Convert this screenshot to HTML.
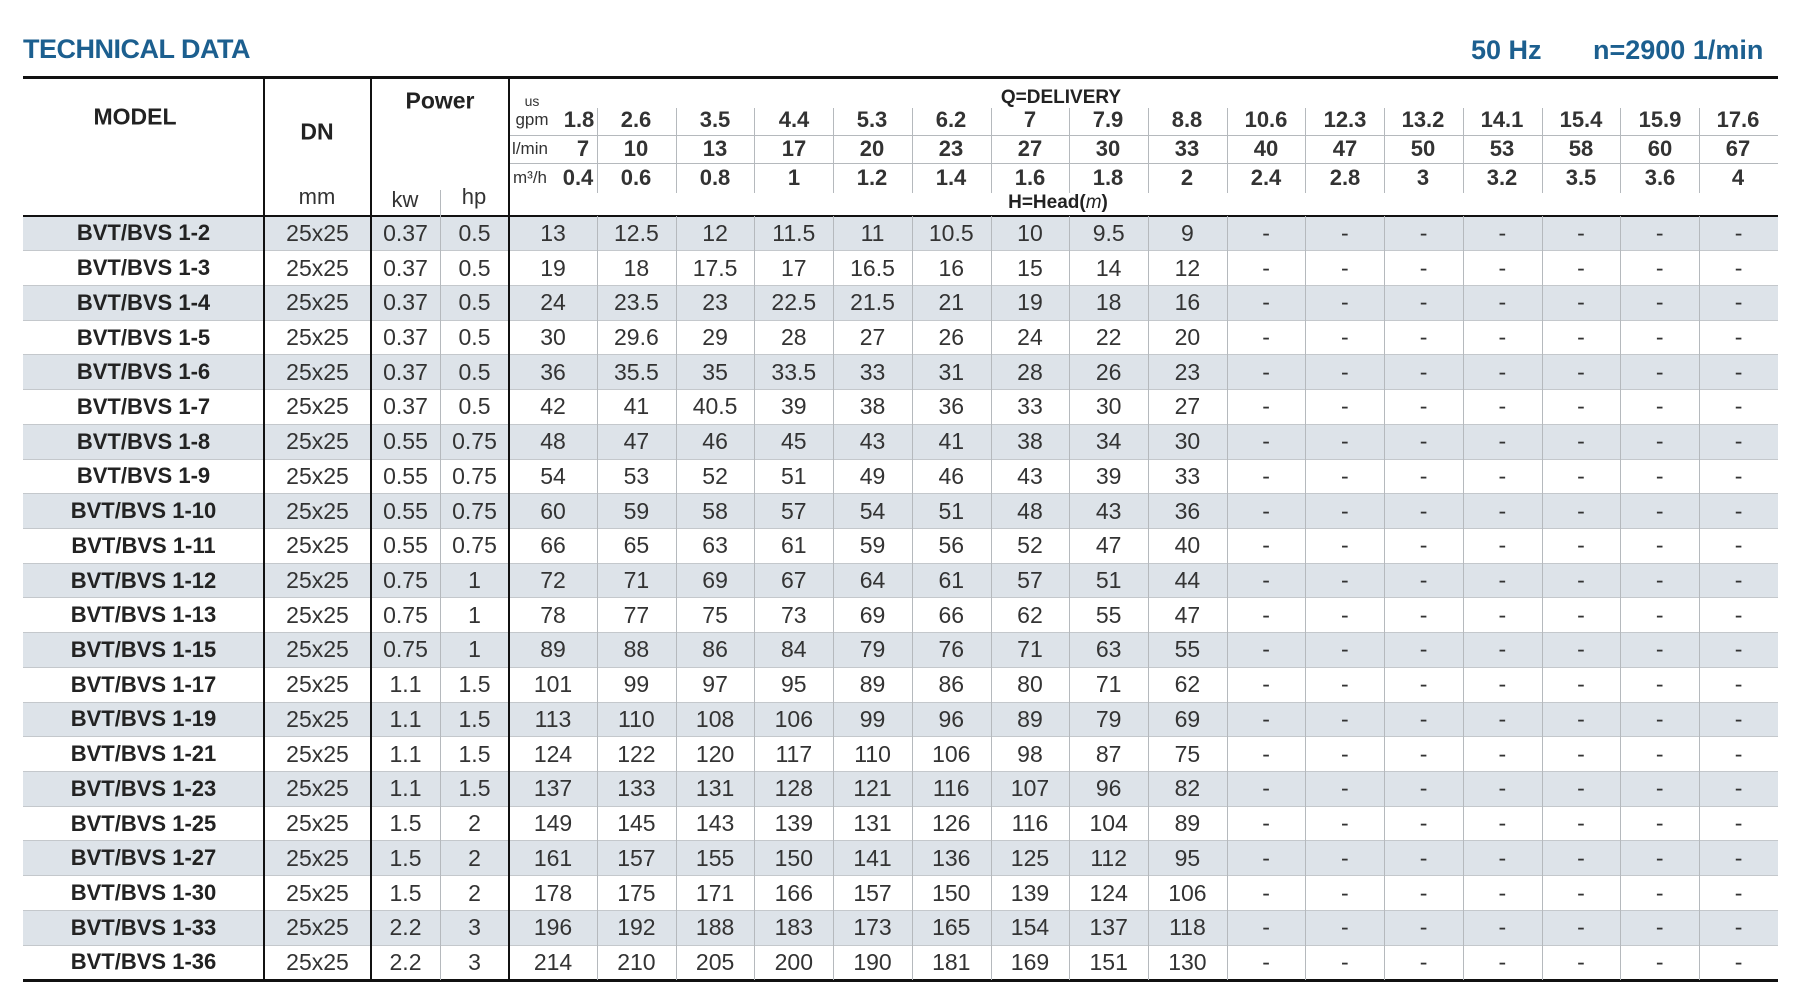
<!DOCTYPE html>
<html><head><meta charset="utf-8">
<style>
html,body{margin:0;padding:0;background:#fff;}
body{width:1799px;height:1000px;position:relative;overflow:hidden;font-family:"Liberation Sans Narrow","Liberation Sans",sans-serif;color:#2a2a2a;}
.a{position:absolute;}
.t{position:absolute;white-space:nowrap;transform:translate(-50%,-50%);}
.blue{color:#1c5f8f;font-weight:bold;font-size:27px;}
.h{font-weight:bold;font-size:22px;color:#222;}
.hv{font-size:22px;font-weight:bold;color:#333;}
.sm{font-size:17px;color:#333;}
table{position:absolute;left:23px;top:216px;width:1755px;height:764px;border-collapse:collapse;table-layout:fixed;}
td{height:34.73px;padding:0;text-align:center;font-size:23px;color:#333;border-bottom:1px solid #c4c8cc;box-sizing:border-box;line-height:33px;overflow:hidden;}
td:first-child{font-weight:bold;color:#222;font-family:"Liberation Sans",sans-serif;font-size:22px;line-height:32px;}
tr:nth-child(odd){background:#dde3e9;}
.vk{position:absolute;width:2px;background:#111;}
.vg{position:absolute;width:1px;background:#b5b9bd;}
</style></head><body>
<div class="a blue" style="left:23px;top:34px;font-family:'Liberation Sans',sans-serif;font-size:27px;letter-spacing:-0.5px">TECHNICAL DATA</div>
<div class="a blue" style="left:1471px;top:35px;font-size:27px">50 Hz</div>
<div class="a blue" style="left:1593px;top:35px;font-size:27px">n=2900 1/min</div>

<table>
<colgroup><col style="width:241px"><col style="width:107px"><col style="width:69px"><col style="width:69px"><col style="width:88px">
<col style="width:78.73px"><col style="width:78.73px"><col style="width:78.73px"><col style="width:78.73px"><col style="width:78.73px"><col style="width:78.73px"><col style="width:78.73px"><col style="width:78.73px"><col style="width:78.73px"><col style="width:78.73px"><col style="width:78.73px"><col style="width:78.73px"><col style="width:78.73px"><col style="width:78.73px"><col style="width:78.73px"></colgroup>
<tr><td>BVT/BVS 1-2</td><td>25x25</td><td>0.37</td><td>0.5</td><td>13</td><td>12.5</td><td>12</td><td>11.5</td><td>11</td><td>10.5</td><td>10</td><td>9.5</td><td>9</td><td>-</td><td>-</td><td>-</td><td>-</td><td>-</td><td>-</td><td>-</td></tr>
<tr><td>BVT/BVS 1-3</td><td>25x25</td><td>0.37</td><td>0.5</td><td>19</td><td>18</td><td>17.5</td><td>17</td><td>16.5</td><td>16</td><td>15</td><td>14</td><td>12</td><td>-</td><td>-</td><td>-</td><td>-</td><td>-</td><td>-</td><td>-</td></tr>
<tr><td>BVT/BVS 1-4</td><td>25x25</td><td>0.37</td><td>0.5</td><td>24</td><td>23.5</td><td>23</td><td>22.5</td><td>21.5</td><td>21</td><td>19</td><td>18</td><td>16</td><td>-</td><td>-</td><td>-</td><td>-</td><td>-</td><td>-</td><td>-</td></tr>
<tr><td>BVT/BVS 1-5</td><td>25x25</td><td>0.37</td><td>0.5</td><td>30</td><td>29.6</td><td>29</td><td>28</td><td>27</td><td>26</td><td>24</td><td>22</td><td>20</td><td>-</td><td>-</td><td>-</td><td>-</td><td>-</td><td>-</td><td>-</td></tr>
<tr><td>BVT/BVS 1-6</td><td>25x25</td><td>0.37</td><td>0.5</td><td>36</td><td>35.5</td><td>35</td><td>33.5</td><td>33</td><td>31</td><td>28</td><td>26</td><td>23</td><td>-</td><td>-</td><td>-</td><td>-</td><td>-</td><td>-</td><td>-</td></tr>
<tr><td>BVT/BVS 1-7</td><td>25x25</td><td>0.37</td><td>0.5</td><td>42</td><td>41</td><td>40.5</td><td>39</td><td>38</td><td>36</td><td>33</td><td>30</td><td>27</td><td>-</td><td>-</td><td>-</td><td>-</td><td>-</td><td>-</td><td>-</td></tr>
<tr><td>BVT/BVS 1-8</td><td>25x25</td><td>0.55</td><td>0.75</td><td>48</td><td>47</td><td>46</td><td>45</td><td>43</td><td>41</td><td>38</td><td>34</td><td>30</td><td>-</td><td>-</td><td>-</td><td>-</td><td>-</td><td>-</td><td>-</td></tr>
<tr><td>BVT/BVS 1-9</td><td>25x25</td><td>0.55</td><td>0.75</td><td>54</td><td>53</td><td>52</td><td>51</td><td>49</td><td>46</td><td>43</td><td>39</td><td>33</td><td>-</td><td>-</td><td>-</td><td>-</td><td>-</td><td>-</td><td>-</td></tr>
<tr><td>BVT/BVS 1-10</td><td>25x25</td><td>0.55</td><td>0.75</td><td>60</td><td>59</td><td>58</td><td>57</td><td>54</td><td>51</td><td>48</td><td>43</td><td>36</td><td>-</td><td>-</td><td>-</td><td>-</td><td>-</td><td>-</td><td>-</td></tr>
<tr><td>BVT/BVS 1-11</td><td>25x25</td><td>0.55</td><td>0.75</td><td>66</td><td>65</td><td>63</td><td>61</td><td>59</td><td>56</td><td>52</td><td>47</td><td>40</td><td>-</td><td>-</td><td>-</td><td>-</td><td>-</td><td>-</td><td>-</td></tr>
<tr><td>BVT/BVS 1-12</td><td>25x25</td><td>0.75</td><td>1</td><td>72</td><td>71</td><td>69</td><td>67</td><td>64</td><td>61</td><td>57</td><td>51</td><td>44</td><td>-</td><td>-</td><td>-</td><td>-</td><td>-</td><td>-</td><td>-</td></tr>
<tr><td>BVT/BVS 1-13</td><td>25x25</td><td>0.75</td><td>1</td><td>78</td><td>77</td><td>75</td><td>73</td><td>69</td><td>66</td><td>62</td><td>55</td><td>47</td><td>-</td><td>-</td><td>-</td><td>-</td><td>-</td><td>-</td><td>-</td></tr>
<tr><td>BVT/BVS 1-15</td><td>25x25</td><td>0.75</td><td>1</td><td>89</td><td>88</td><td>86</td><td>84</td><td>79</td><td>76</td><td>71</td><td>63</td><td>55</td><td>-</td><td>-</td><td>-</td><td>-</td><td>-</td><td>-</td><td>-</td></tr>
<tr><td>BVT/BVS 1-17</td><td>25x25</td><td>1.1</td><td>1.5</td><td>101</td><td>99</td><td>97</td><td>95</td><td>89</td><td>86</td><td>80</td><td>71</td><td>62</td><td>-</td><td>-</td><td>-</td><td>-</td><td>-</td><td>-</td><td>-</td></tr>
<tr><td>BVT/BVS 1-19</td><td>25x25</td><td>1.1</td><td>1.5</td><td>113</td><td>110</td><td>108</td><td>106</td><td>99</td><td>96</td><td>89</td><td>79</td><td>69</td><td>-</td><td>-</td><td>-</td><td>-</td><td>-</td><td>-</td><td>-</td></tr>
<tr><td>BVT/BVS 1-21</td><td>25x25</td><td>1.1</td><td>1.5</td><td>124</td><td>122</td><td>120</td><td>117</td><td>110</td><td>106</td><td>98</td><td>87</td><td>75</td><td>-</td><td>-</td><td>-</td><td>-</td><td>-</td><td>-</td><td>-</td></tr>
<tr><td>BVT/BVS 1-23</td><td>25x25</td><td>1.1</td><td>1.5</td><td>137</td><td>133</td><td>131</td><td>128</td><td>121</td><td>116</td><td>107</td><td>96</td><td>82</td><td>-</td><td>-</td><td>-</td><td>-</td><td>-</td><td>-</td><td>-</td></tr>
<tr><td>BVT/BVS 1-25</td><td>25x25</td><td>1.5</td><td>2</td><td>149</td><td>145</td><td>143</td><td>139</td><td>131</td><td>126</td><td>116</td><td>104</td><td>89</td><td>-</td><td>-</td><td>-</td><td>-</td><td>-</td><td>-</td><td>-</td></tr>
<tr><td>BVT/BVS 1-27</td><td>25x25</td><td>1.5</td><td>2</td><td>161</td><td>157</td><td>155</td><td>150</td><td>141</td><td>136</td><td>125</td><td>112</td><td>95</td><td>-</td><td>-</td><td>-</td><td>-</td><td>-</td><td>-</td><td>-</td></tr>
<tr><td>BVT/BVS 1-30</td><td>25x25</td><td>1.5</td><td>2</td><td>178</td><td>175</td><td>171</td><td>166</td><td>157</td><td>150</td><td>139</td><td>124</td><td>106</td><td>-</td><td>-</td><td>-</td><td>-</td><td>-</td><td>-</td><td>-</td></tr>
<tr><td>BVT/BVS 1-33</td><td>25x25</td><td>2.2</td><td>3</td><td>196</td><td>192</td><td>188</td><td>183</td><td>173</td><td>165</td><td>154</td><td>137</td><td>118</td><td>-</td><td>-</td><td>-</td><td>-</td><td>-</td><td>-</td><td>-</td></tr>
<tr><td>BVT/BVS 1-36</td><td>25x25</td><td>2.2</td><td>3</td><td>214</td><td>210</td><td>205</td><td>200</td><td>190</td><td>181</td><td>169</td><td>151</td><td>130</td><td>-</td><td>-</td><td>-</td><td>-</td><td>-</td><td>-</td><td>-</td></tr>
</table>

<div class="a" style="left:23px;top:76px;width:1755px;height:3px;background:#111"></div>
<div class="a" style="left:23px;top:215px;width:1755px;height:2px;background:#111"></div>
<div class="a" style="left:23px;top:979px;width:1755px;height:3px;background:#111"></div>
<div class="a" style="left:509px;top:135px;width:1269px;height:1px;background:#b5b9bd"></div>
<div class="a" style="left:509px;top:163px;width:1269px;height:1px;background:#b5b9bd"></div>

<div class="vk" style="left:263px;top:77px;height:903px"></div>
<div class="vk" style="left:370px;top:77px;height:903px"></div>
<div class="vk" style="left:508px;top:77px;height:903px"></div>
<div class="vg" style="left:440px;top:190px;height:790px"></div>

<div class="vg" style="left:597px;top:108px;height:85px"></div><div class="vg" style="left:597px;top:216px;height:764px"></div>
<div class="vg" style="left:676px;top:108px;height:85px"></div><div class="vg" style="left:676px;top:216px;height:764px"></div>
<div class="vg" style="left:754px;top:108px;height:85px"></div><div class="vg" style="left:754px;top:216px;height:764px"></div>
<div class="vg" style="left:833px;top:108px;height:85px"></div><div class="vg" style="left:833px;top:216px;height:764px"></div>
<div class="vg" style="left:912px;top:108px;height:85px"></div><div class="vg" style="left:912px;top:216px;height:764px"></div>
<div class="vg" style="left:991px;top:108px;height:85px"></div><div class="vg" style="left:991px;top:216px;height:764px"></div>
<div class="vg" style="left:1069px;top:108px;height:85px"></div><div class="vg" style="left:1069px;top:216px;height:764px"></div>
<div class="vg" style="left:1148px;top:108px;height:85px"></div><div class="vg" style="left:1148px;top:216px;height:764px"></div>
<div class="vg" style="left:1227px;top:108px;height:85px"></div><div class="vg" style="left:1227px;top:216px;height:764px"></div>
<div class="vg" style="left:1305px;top:108px;height:85px"></div><div class="vg" style="left:1305px;top:216px;height:764px"></div>
<div class="vg" style="left:1384px;top:108px;height:85px"></div><div class="vg" style="left:1384px;top:216px;height:764px"></div>
<div class="vg" style="left:1463px;top:108px;height:85px"></div><div class="vg" style="left:1463px;top:216px;height:764px"></div>
<div class="vg" style="left:1542px;top:108px;height:85px"></div><div class="vg" style="left:1542px;top:216px;height:764px"></div>
<div class="vg" style="left:1620px;top:108px;height:85px"></div><div class="vg" style="left:1620px;top:216px;height:764px"></div>
<div class="vg" style="left:1699px;top:108px;height:85px"></div><div class="vg" style="left:1699px;top:216px;height:764px"></div>

<div class="t h" style="left:135px;top:117px;font-size:23px">MODEL</div>
<div class="t h" style="left:317px;top:132px;font-size:23px">DN</div>
<div class="t h" style="left:440px;top:101px;font-size:23px">Power</div>
<div class="t sm" style="left:317px;top:197px;font-size:22px">mm</div>
<div class="t sm" style="left:405px;top:200px;font-size:22px">kw</div>
<div class="t sm" style="left:474px;top:197px;font-size:22px">hp</div>
<div class="t h" style="left:1061px;top:98px;font-size:19px">Q=DELIVERY</div>
<div class="t h" style="left:1058px;top:203px;font-size:19px">H=Head(<i style="font-weight:normal">m</i>)</div>
<div class="t sm" style="left:532px;top:101px;font-size:14px">us</div>
<div class="t sm" style="left:532px;top:120px">gpm</div>
<div class="t sm" style="left:530px;top:149px">l/min</div>
<div class="t sm" style="left:530px;top:178px">m³/h</div>
<div class="t hv" style="left:579px;top:120px">1.8</div>
<div class="t hv" style="left:583px;top:149px">7</div>
<div class="t hv" style="left:578px;top:178px">0.4</div>

<div class="t hv" style="left:636px;top:120px">2.6</div><div class="t hv" style="left:636px;top:149px">10</div><div class="t hv" style="left:636px;top:178px">0.6</div>
<div class="t hv" style="left:715px;top:120px">3.5</div><div class="t hv" style="left:715px;top:149px">13</div><div class="t hv" style="left:715px;top:178px">0.8</div>
<div class="t hv" style="left:794px;top:120px">4.4</div><div class="t hv" style="left:794px;top:149px">17</div><div class="t hv" style="left:794px;top:178px">1</div>
<div class="t hv" style="left:872px;top:120px">5.3</div><div class="t hv" style="left:872px;top:149px">20</div><div class="t hv" style="left:872px;top:178px">1.2</div>
<div class="t hv" style="left:951px;top:120px">6.2</div><div class="t hv" style="left:951px;top:149px">23</div><div class="t hv" style="left:951px;top:178px">1.4</div>
<div class="t hv" style="left:1030px;top:120px">7</div><div class="t hv" style="left:1030px;top:149px">27</div><div class="t hv" style="left:1030px;top:178px">1.6</div>
<div class="t hv" style="left:1108px;top:120px">7.9</div><div class="t hv" style="left:1108px;top:149px">30</div><div class="t hv" style="left:1108px;top:178px">1.8</div>
<div class="t hv" style="left:1187px;top:120px">8.8</div><div class="t hv" style="left:1187px;top:149px">33</div><div class="t hv" style="left:1187px;top:178px">2</div>
<div class="t hv" style="left:1266px;top:120px">10.6</div><div class="t hv" style="left:1266px;top:149px">40</div><div class="t hv" style="left:1266px;top:178px">2.4</div>
<div class="t hv" style="left:1345px;top:120px">12.3</div><div class="t hv" style="left:1345px;top:149px">47</div><div class="t hv" style="left:1345px;top:178px">2.8</div>
<div class="t hv" style="left:1423px;top:120px">13.2</div><div class="t hv" style="left:1423px;top:149px">50</div><div class="t hv" style="left:1423px;top:178px">3</div>
<div class="t hv" style="left:1502px;top:120px">14.1</div><div class="t hv" style="left:1502px;top:149px">53</div><div class="t hv" style="left:1502px;top:178px">3.2</div>
<div class="t hv" style="left:1581px;top:120px">15.4</div><div class="t hv" style="left:1581px;top:149px">58</div><div class="t hv" style="left:1581px;top:178px">3.5</div>
<div class="t hv" style="left:1660px;top:120px">15.9</div><div class="t hv" style="left:1660px;top:149px">60</div><div class="t hv" style="left:1660px;top:178px">3.6</div>
<div class="t hv" style="left:1738px;top:120px">17.6</div><div class="t hv" style="left:1738px;top:149px">67</div><div class="t hv" style="left:1738px;top:178px">4</div>
</body></html>
